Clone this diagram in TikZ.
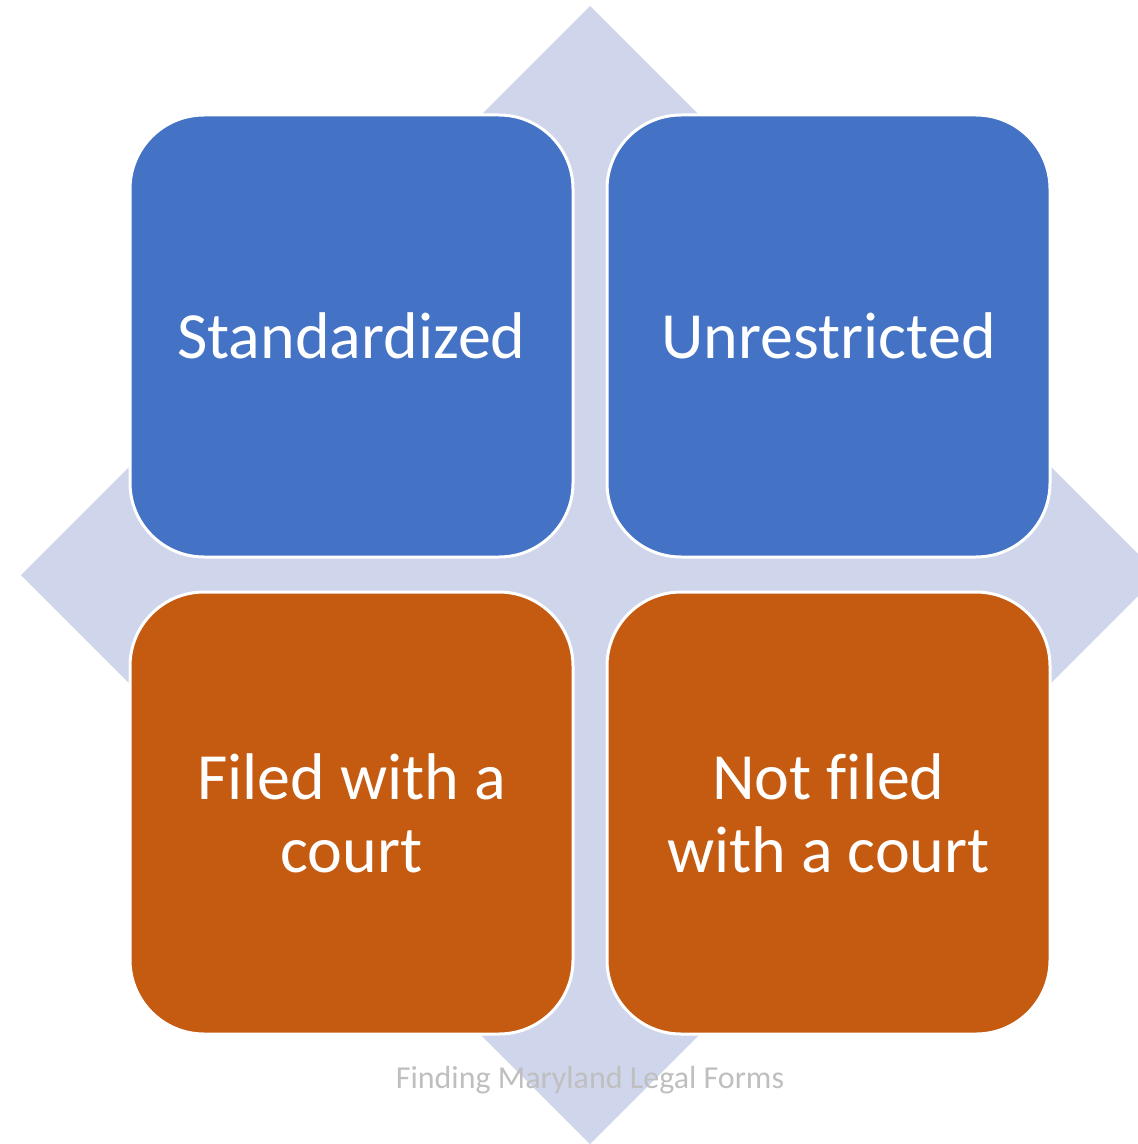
\documentclass[tikz,border=0pt]{standalone}
\usepackage{fontspec}
\setmainfont{Carlito}[Ligatures=NoCommon]
\usetikzlibrary{positioning}
\definecolor{quadblue}{HTML}{4472C4}
\definecolor{quadorange}{HTML}{C55A11}
\definecolor{diamondfill}{HTML}{CFD5EA}
\definecolor{footgray}{HTML}{BFBFBF}
\tikzset{quad/.style={draw=white, line width=1.5pt, rounded corners=37pt,
    minimum width=221.5pt, minimum height=221pt, inner sep=0pt,
    text=white, align=center, font=\fontsize{33}{36.5}\selectfont}}

\begin{document}
\begin{tikzpicture}[x=0.5pt,y=-0.5pt]
\useasboundingbox (0,0) rectangle (1138,1144);
% Background diamond
\coordinate (T) at (590,6);
\coordinate (L) at (21,575);
\coordinate (B) at (590,1144);
\coordinate (R) at (1159,575);
\begin{scope}
\clip (0,0) rectangle (1138,1144);
\fill[diamondfill] (T) -- (R) -- (B) -- (L) -- cycle;
\end{scope}

% Four quadrants
\node[quad,fill=quadblue] (std) at (351.5,336) {Standardized};
\node[quad,fill=quadblue] (unr) at (828.5,336) {Unrestricted};
\node[quad,fill=quadorange] (filed) at (351.5,813) {Filed with a\\court};
\node[quad,fill=quadorange] (notfiled) at (828.5,813) {Not f\kern0pt iled\\with a court};

% Footer
\node[anchor=base,text=footgray,font=\fontsize{16}{18}\selectfont,inner sep=0pt] (foot) at (590,1088) {Finding Maryland Legal Forms};
\end{tikzpicture}
\end{document}
